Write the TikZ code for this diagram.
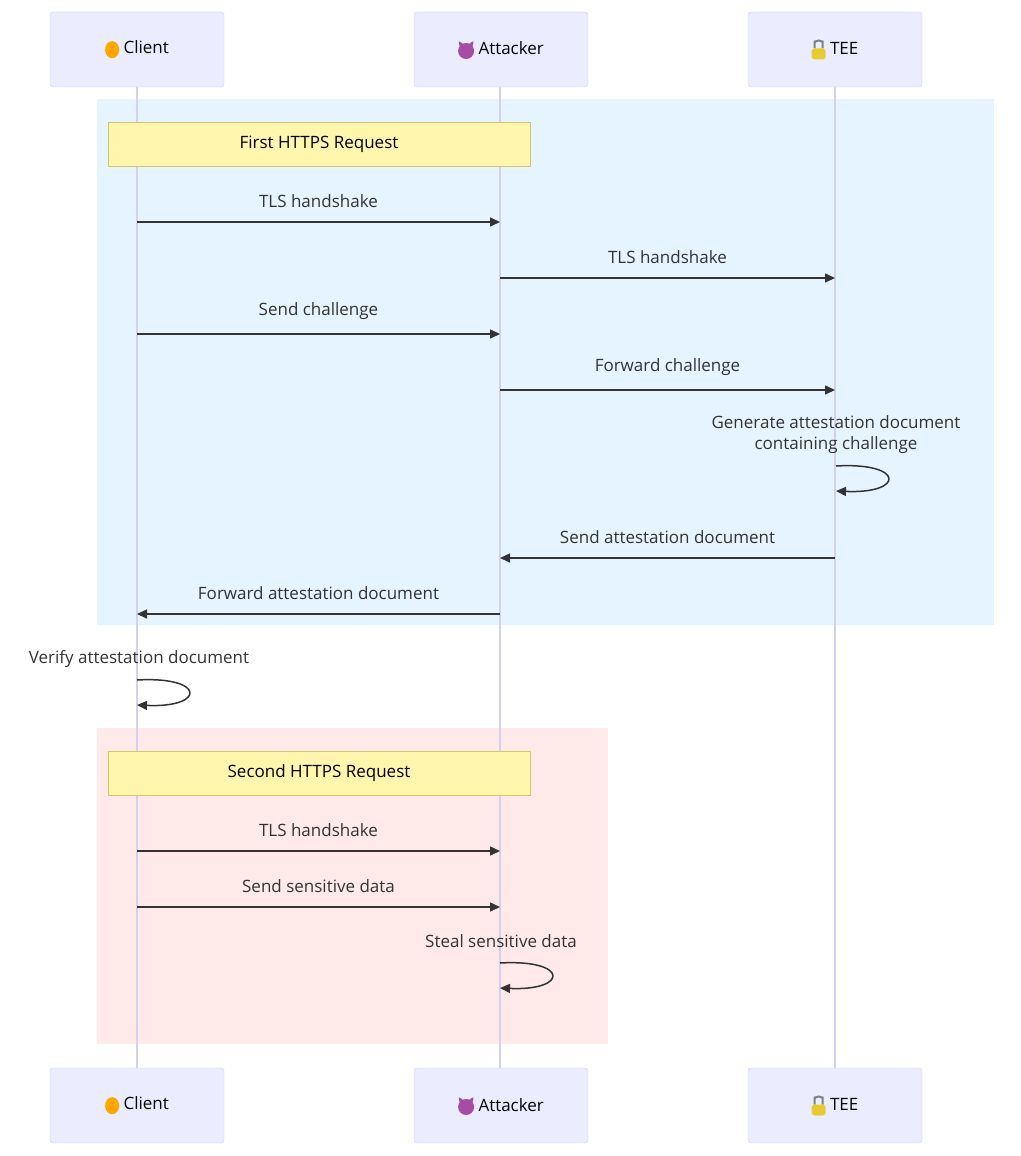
\documentclass[tikz,border=0pt]{standalone}
\usepackage{fontspec}
\setmainfont{Open Sans}
\usetikzlibrary{positioning,arrows.meta}
\definecolor{actfill}{HTML}{ECECFF}
\definecolor{actline}{HTML}{CCCCFF}
\definecolor{life}{HTML}{D4D0F0}
\definecolor{bluebg}{HTML}{E6F4FF}
\definecolor{pinkbg}{HTML}{FFE9E9}
\definecolor{notefill}{HTML}{FFF5AD}
\definecolor{noteline}{HTML}{D4C76A}
\definecolor{msg}{HTML}{333333}
\tikzset{
  actor/.style={draw=actline, fill=actfill, rounded corners=3pt, minimum width=174pt, minimum height=75pt, font=\fontsize{17}{20}\selectfont},
  note/.style={draw=noteline, fill=notefill, minimum width=422pt, minimum height=44pt, font=\fontsize{17}{20}\selectfont},
  lbl/.style={font=\fontsize{17}{21}\selectfont, text=msg, align=center},
  msgline/.style={draw=msg, line width=1.5pt, -{Triangle[length=10pt,width=9pt]}},
}
\newcommand{\babyicon}{\tikz[baseline=-4pt]{\fill[orange!70!yellow] (0,0) ellipse (7pt and 8.5pt);}}
\newcommand{\devilicon}{\tikz[baseline=-4pt]{\fill[violet!70] (0,0) circle (8pt); \fill[violet!70] (-6pt,3pt) -- (-8pt,11pt) -- (-2pt,6pt); \fill[violet!70] (6pt,3pt) -- (8pt,11pt) -- (2pt,6pt);}}
\newcommand{\lockicon}{\tikz[baseline=-4pt]{\draw[gray,line width=2pt] (-4pt,2pt) -- (-4pt,6pt) arc (180:0:4pt) -- (4pt,2pt); \fill[yellow!60!brown] (-7pt,-9pt) rectangle (7pt,2pt);}}
\begin{document}
\begin{tikzpicture}[x=1pt,y=-1pt]
  \useasboundingbox (0,0) rectangle (1020,1156);

  % Loop backgrounds
  \fill[bluebg] (97,99) rectangle (994,625);
  \fill[pinkbg] (97,728) rectangle (608,1044);

  % Lifelines
  \foreach \x in {137,500,835}
    \draw[life, line width=1.5pt] (\x,87) -- (\x,1068);

  % Actors
  \node[actor] (clientT) at (137,49.5) {\babyicon\ Client};
  \node[actor] (attT) at (501,49.5) {\devilicon\ Attacker};
  \node[actor] (teeT) at (835,49.5) {\lockicon\ TEE};
  \node[actor] (clientB) at (137,1105.5) {\babyicon\ Client};
  \node[actor] (attB) at (501,1105.5) {\devilicon\ Attacker};
  \node[actor] (teeB) at (835,1105.5) {\lockicon\ TEE};

  % Notes
  \node[note] (firstReq) at (319,144) {First HTTPS Request};
  \node[note] (secondReq) at (319,773.5) {Second HTTPS Request};

  % Message end points
  \foreach \n/\y in {1/222,2/278,3/334,4/390,5/558,6/614,7/851,8/907} {
    \coordinate (c\n) at (137,\y);
    \coordinate (a\n) at (500,\y);
    \coordinate (t\n) at (835,\y);
  }

  % Messages
  \draw[msgline] (c1) -- node[lbl, above=10pt] {TLS handshake} (a1);
  \draw[msgline] (a2) -- node[lbl, above=10pt] {TLS handshake} (t2);
  \draw[msgline] (c3) -- node[lbl, above=10pt] {Send challenge} (a3);
  \draw[msgline] (a4) -- node[lbl, above=10pt] {Forward challenge} (t4);
  \draw[msgline] (t5) -- node[lbl, above=10pt] {Send attestation document} (a5);
  \draw[msgline] (a6) -- node[lbl, above=10pt] {Forward attestation document} (c6);
  \draw[msgline] (c7) -- node[lbl, above=10pt] {TLS handshake} (a7);
  \draw[msgline] (c8) -- node[lbl, above=10pt] {Send sensitive data} (a8);

  % Self messages
  \node[lbl] (genDoc) at (836,435) {Generate attestation document\\containing challenge};
  \coordinate (tS) at (836,466);
  \draw[msgline] (tS) .. controls (905,462) and (905,494) .. (836,491);
  \node[lbl] (verDoc) at (139,659) {Verify attestation document};
  \coordinate (cS) at (137,680);
  \draw[msgline] (cS) .. controls (206,676) and (206,708) .. (137,705);
  \node[lbl] (steal) at (501,941) {Steal sensitive data};
  \coordinate (aS) at (500,963);
  \draw[msgline] (aS) .. controls (569,959) and (569,991) .. (500,988);
\end{tikzpicture}
\end{document}
